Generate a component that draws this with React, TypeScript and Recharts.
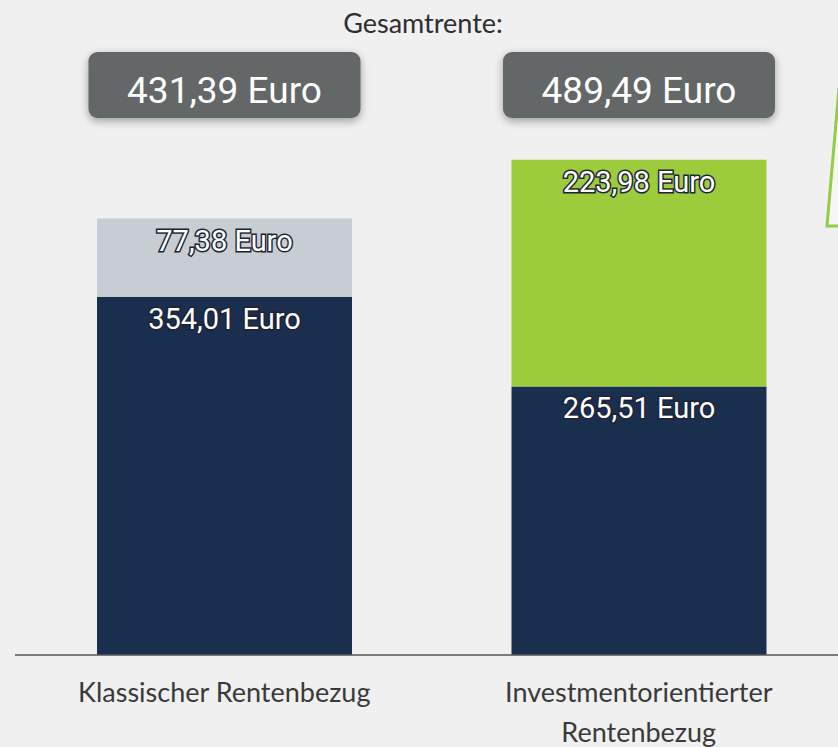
import React from "react"
import { BarChart, Bar, XAxis, YAxis, LabelList } from "recharts"

const categories = ["Klassischer Rentenbezug", "Investmentorientierter Rentenbezug"]
const basisRente = [354.01, 265.51]
const zusatzKlassisch = [77.38, 0]
const zusatzInvest = [0, 223.98]
const gesamtRente = [431.39, 489.49]

const data = categories.map((name, i) => ({
  name,
  basis: basisRente[i],
  klassisch: zusatzKlassisch[i],
  invest: zusatzInvest[i],
  total: gesamtRente[i],
}))

const fmt = (v: number) => v.toFixed(2).replace(".", ",") + " Euro"

// simple word wrap by character count
const wrap = (s: string, max: number) => {
  const lines: string[] = []
  let cur = ""
  s.split(" ").forEach((w) => {
    const next = cur ? cur + " " + w : w
    if (next.length > max && cur) {
      lines.push(cur)
      cur = w
    } else {
      cur = next
    }
  })
  if (cur) lines.push(cur)
  return lines
}

const SegmentLabel = (props: any) => {
  const { x, y, width, value } = props
  if (!value) return null
  return (
    <text
      x={x + width / 2}
      y={y + 32}
      textAnchor="middle"
      fill="#ffffff"
      stroke="#1c2436"
      strokeWidth={3}
      paintOrder="stroke"
      style={{ fontFamily: "Roboto", fontSize: 29 }}
    >
      {fmt(value)}
    </text>
  )
}

const TotalBox = (props: any) => {
  const { x, width, value } = props
  const cx = x + width / 2
  return (
    <g>
      <rect
        x={cx - 136}
        y={52}
        width={272}
        height={66}
        rx={9}
        fill="#646767"
        style={{ filter: "drop-shadow(0px 3px 4px rgba(0,0,0,0.35))" }}
      />
      <text x={cx} y={103} textAnchor="middle" fill="#ffffff" style={{ fontFamily: "Roboto", fontSize: 37 }}>
        {fmt(value)}
      </text>
    </g>
  )
}

const CategoryTick = (props: any) => {
  const { x, y, payload } = props
  const lines = wrap(String(payload.value), 23)
  return (
    <text x={x} y={y + 39} textAnchor="middle" fill="#3a3a3a" style={{ fontFamily: "Lato", fontSize: 27 }}>
      {lines.map((l, i) => (
        <tspan key={i} x={x} dy={i === 0 ? 0 : 40}>
          {l}
        </tspan>
      ))}
    </text>
  )
}

export default function App() {
  return (
    <div style={{ position: "absolute", left: 0, top: 0, width: 838, height: 747, overflow: "hidden", background: "#f0f0f0" }}>
      <div
        style={{
          position: "absolute",
          top: 6,
          left: 0,
          width: 846,
          textAlign: "center",
          fontFamily: "Lato",
          fontSize: 27,
          color: "#2e2e2e",
        }}
      >
        Gesamtrente:
      </div>
      <BarChart width={846} height={747} data={data} margin={{ top: 48, right: 0, left: 15, bottom: 0 }} barSize={255}>
        <XAxis
          dataKey="name"
          height={92}
          tickLine={false}
          axisLine={{ stroke: "#555555", strokeWidth: 1.5 }}
          padding={{ left: 2, right: 0 }}
          tick={<CategoryTick />}
          interval={0}
        />
        <YAxis hide domain={[0, 600]} />
        <Bar dataKey="basis" stackId="a" fill="#1a2f4e" isAnimationActive={false}>
          <LabelList dataKey="basis" content={<SegmentLabel />} />
          <LabelList dataKey="total" content={<TotalBox />} />
        </Bar>
        <Bar dataKey="klassisch" stackId="a" fill="#c8cdd4" isAnimationActive={false}>
          <LabelList dataKey="klassisch" content={<SegmentLabel />} />
        </Bar>
        <Bar dataKey="invest" stackId="a" fill="#9ccc3c" isAnimationActive={false}>
          <LabelList dataKey="invest" content={<SegmentLabel />} />
        </Bar>
      </BarChart>
      <svg style={{ position: "absolute", left: 0, top: 0 }} width={838} height={747}>
        <polygon points="839,88 827,226 845,226" fill="#f6f6f6" stroke="#93cc45" strokeWidth={3} />
      </svg>
    </div>
  )
}
